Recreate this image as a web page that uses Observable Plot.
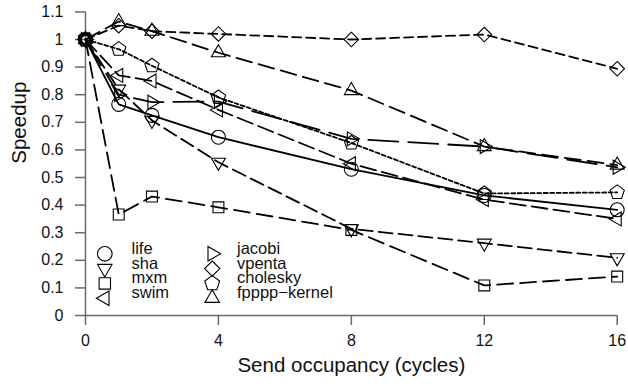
<!DOCTYPE html>
<html><head><meta charset="utf-8">
<script src="https://cdn.jsdelivr.net/npm/d3@7"></script>
<script src="https://cdn.jsdelivr.net/npm/@observablehq/plot@0.6"></script>
<style>body{margin:0;background:#fff;} #chart{width:628px;height:386px;}</style>
</head><body><div id="chart"></div>
<script>
// ---- data ----
const occupancy = [0, 1, 2, 4, 8, 12, 16];
const seriesNames = ["life", "sha", "mxm", "swim", "jacobi", "vpenta", "cholesky", "fpppp−kernel"];
const life     = [1, 0.765, 0.725, 0.646, 0.530, 0.435, 0.383];
const sha      = [1, 0.820, 0.707, 0.555, 0.314, 0.262, 0.209];
const mxm      = [1, 0.366, 0.431, 0.392, 0.310, 0.109, 0.141];
const swim     = [1, 0.870, 0.850, 0.745, 0.550, 0.420, 0.350];
const jacobi   = [1, 0.800, 0.773, 0.775, 0.640, 0.612, 0.537];
const vpenta   = [1, 1.050, 1.030, 1.020, 1.000, 1.018, 0.894];
const cholesky = [1, 0.965, 0.905, 0.790, 0.625, 0.442, 0.446];
const fpppp    = [1, 1.065, 1.030, 0.952, 0.815, 0.612, 0.545];
const xTicks = [0, 4, 8, 12, 16];
const yTicks = [0, 0.1, 0.2, 0.3, 0.4, 0.5, 0.6, 0.7, 0.8, 0.9, 1, 1.1];
const yTickLabels = ["0", "0.1", "0.2", "0.3", "0.4", "0.5", "0.6", "0.7", "0.8", "0.9", "1", "1.1"];
const xTitle = "Send occupancy (cycles)";
const yTitle = "Speedup";

const values = [life, sha, mxm, swim, jacobi, vpenta, cholesky, fpppp];
const rows = seriesNames.flatMap((s, i) => occupancy.map((x, j) => ({series: s, x, y: values[i][j]})));

// ---- custom symbols ----
function sym(fn) { return {draw(ctx, size) { fn(ctx, Math.sqrt(size / Math.PI)); }}; }
function poly(ctx, pts) { ctx.moveTo(pts[0][0], pts[0][1]); for (let k = 1; k < pts.length; k++) ctx.lineTo(pts[k][0], pts[k][1]); ctx.closePath(); }
function regular(n, rot, scale) {
  return sym((ctx, s) => {
    const R = scale * s;
    const pts = d3.range(n).map(i => { const a = (rot + i * 360 / n) * Math.PI / 180; return [R * Math.sin(a), -R * Math.cos(a)]; });
    poly(ctx, pts);
  });
}
const circleSym = sym((ctx, s) => { ctx.moveTo(s, 0); ctx.arc(0, 0, s, 0, 2 * Math.PI); });
const squareSym = sym((ctx, s) => { const h = 0.78 * s; poly(ctx, [[-h, -h], [h, -h], [h, h], [-h, h]]); });
const symbols = [
  circleSym,               // life
  regular(3, 180, 1.15),   // sha ▽
  squareSym,               // mxm
  regular(3, 270, 1.15),   // swim ◁
  regular(3, 90, 1.15),    // jacobi ▷
  regular(4, 0, 1.04),     // vpenta ◇
  regular(5, 0, 1.07),     // cholesky
  regular(3, 0, 1.15)      // fpppp △
];
const dashes = [null, "14,6", "16,7", "16,6", "30,10", "9,5", "4,2.5", "16,7"];

const grey = "#6a6a6a";
const font = "'Liberation Sans', Arial, Helvetica, sans-serif";
const marks = [];
marks.push(Plot.ruleY([0], {stroke: grey, strokeWidth: 1.5}));
marks.push(Plot.ruleX([0], {stroke: grey, strokeWidth: 1.5}));
marks.push(Plot.axisX(xTicks, {tickSize: 10, tickPadding: 9, stroke: grey, strokeWidth: 1.5, fill: "#111", fontSize: 16, label: null}));
marks.push(Plot.axisY(yTicks, {tickSize: 10, tickPadding: 12, stroke: grey, strokeWidth: 1.5, fill: "#111", fontSize: 16, label: null,
  tickFormat: d => yTickLabels[yTicks.findIndex(t => Math.abs(t - d) < 1e-9)]}));

seriesNames.forEach((s, i) => {
  const data = rows.filter(r => r.series === s);
  marks.push(Plot.line(data, {x: "x", y: "y", stroke: "black", strokeWidth: 1.8, strokeDasharray: dashes[i] || undefined}));
});
seriesNames.forEach((s, i) => {
  const data = rows.filter(r => r.series === s);
  marks.push(Plot.dot(data, {x: "x", y: "y", symbol: symbols[i], r: 7, stroke: "black", strokeWidth: 1.1, fill: "none"}));
});

// legend (inside the frame, bottom-left)
const rowDy = [-61.7, -46.9, -32.1, -17.3];
seriesNames.forEach((s, i) => {
  const col = i < 4 ? 0 : 1, row = i % 4;
  marks.push(Plot.dot([s], {frameAnchor: "bottom-left", dx: col ? 126.7 : 19.3, dy: rowDy[row], symbol: symbols[i], r: 7.3, stroke: "black", strokeWidth: 1.1, fill: "none"}));
  marks.push(Plot.text([s], {frameAnchor: "bottom-left", dx: col ? 151.5 : 46, dy: rowDy[row], text: d => d, textAnchor: "start", fontSize: 16.5, fill: "#111"}));
});

marks.push(Plot.text([xTitle], {frameAnchor: "bottom", dy: 56, text: d => d, fontSize: 20.5, fill: "#111"}));
marks.push(Plot.text([yTitle], {frameAnchor: "left", dx: -66, rotate: -90, text: d => d, fontSize: 20.5, fill: "#111"}));

const chart = Plot.plot({
  width: 628, height: 386,
  marginLeft: 85, marginRight: 11.3, marginTop: 11.4, marginBottom: 71,
  style: {fontFamily: font, background: "#fff"},
  x: {domain: [0, 16]},
  y: {domain: [0, 1.1]},
  marks
});
document.getElementById("chart").appendChild(chart);
</script>
</body></html>
